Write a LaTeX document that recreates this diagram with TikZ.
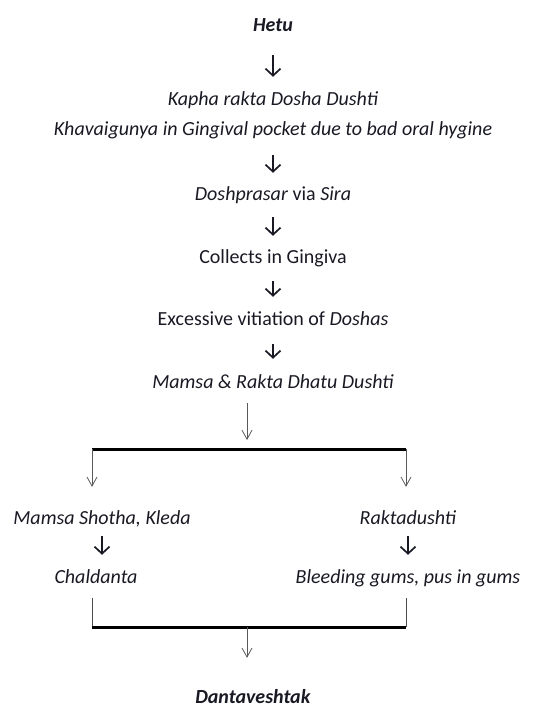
\documentclass[tikz,border=0pt]{standalone}
\usepackage{fontspec}
\setmainfont{Carlito}
\usetikzlibrary{arrows.meta}

\definecolor{inkcol}{rgb}{0.1,0.1,0.14}
\tikzset{
  txt/.style={inner sep=0pt, text height=14pt, text depth=4pt, text=inkcol,
    font=\fontsize{20}{24}\selectfont},
  bigarrow/.style={draw=inkcol, line width=1.7pt, -{Straight Barb[length=7pt,width=15pt]}},
  thinarrow/.style={draw=black!65, line width=0.8pt, -{Straight Barb[length=9pt,width=10pt]}},
  bar/.style={draw=black, line width=3pt},
  thinline/.style={draw=black!70, line width=1pt}
}

\begin{document}
\begin{tikzpicture}[x=1pt, y=-1pt]
  \useasboundingbox (0,0) rectangle (533,707);

  \node[txt] (hetu) at (273,26) {\textbf{\textit{Hetu}}};
  \node[txt] (kapha) at (273,100) {\textit{Kapha rakta Dosha Dushti}};
  \node[txt] (khava) at (273,130) {\textit{Khavaigunya in Gingival pocket due to bad oral hygine}};
  \node[txt] (doshp) at (273,195) {\textit{Doshprasar} via \textit{Sira}};
  \node[txt] (collects) at (273,258) {Collects in Gingiva};
  \node[txt] (excess) at (273,320) {Excessive vitiation of \textit{Doshas}};
  \node[txt] (mamsa) at (273,383) {\textit{Mamsa \& Rakta Dhatu Dushti}};

  \coordinate (splitL) at (92,449);
  \coordinate (splitM) at (247,449);
  \coordinate (splitR) at (406,449);

  \node[txt] (shotha) at (102,519) {\textit{Mamsa Shotha, Kleda}};
  \node[txt] (rakta) at (408,519) {\textit{Raktadushti}};
  \node[txt] (chal) at (96,578) {\textit{Chaldanta}};
  \node[txt] (bleed) at (408,578) {\textit{Bleeding gums, pus in gums}};

  \coordinate (joinL) at (92,627);
  \coordinate (joinM) at (247,627);
  \coordinate (joinR) at (406,627);

  \node[txt] (danta) at (253,698) {\textbf{\textit{Dantaveshtak}}};

  \draw[bigarrow, shorten <=20pt, shorten >=14pt] (hetu.south) -- (kapha.north);
  \draw[bigarrow, shorten <=16pt, shorten >=13pt] (khava.south) -- (doshp.north);
  \draw[bigarrow, shorten <=13pt, shorten >=13pt] (doshp.south) -- (collects.north);
  \draw[bigarrow, shorten <=14pt, shorten >=14pt] (collects.south) -- (excess.north);
  \draw[bigarrow, shorten <=15pt, shorten >=15pt] (excess.south) -- (mamsa.north);

  \draw[thinarrow, shorten <=11pt, shorten >=9pt] (mamsa.south -| splitM) -- (splitM);
  \draw[bar] (splitL) -- (splitR);
  \draw[thinarrow, shorten >=23pt] (splitL) -- (splitL |- shotha.north);
  \draw[thinarrow, shorten >=23pt] (splitR) -- (splitR |- rakta.north);

  \draw[bigarrow, shorten <=8pt, shorten >=14pt] (shotha.south) -- (shotha.south |- chal.north);
  \draw[bigarrow, shorten <=8pt, shorten >=14pt] (rakta.south) -- (rakta.south |- bleed.north);

  \draw[thinline, shorten <=11pt] (chal.south -| joinL) -- (joinL);
  \draw[thinline, shorten <=11pt] (bleed.south -| joinR) -- (joinR);
  \draw[bar] (joinL) -- (joinR);
  \draw[thinarrow, shorten >=31pt] (joinM) -- (joinM |- danta.north);
\end{tikzpicture}
\end{document}
